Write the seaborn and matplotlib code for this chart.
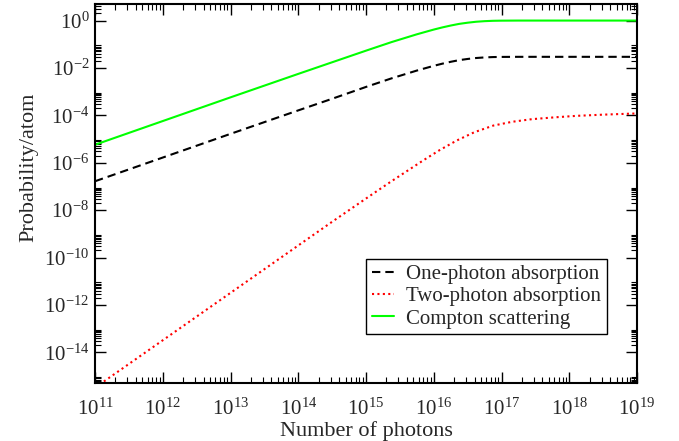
import numpy as np
import pandas as pd
import matplotlib
matplotlib.use("Agg")
import matplotlib.pyplot as plt
import matplotlib.ticker as mticker
import seaborn as sns

# log10 of number of photons (one-photon and Compton readings)
log_photons = [11, 12, 13, 14, 14.5, 15, 15.125, 15.25, 15.375, 15.5, 15.625, 15.75,
               15.875, 16, 16.125, 16.25, 16.375, 16.5, 16.625, 16.75, 16.875, 17,
               17.25, 17.5, 18, 18.5, 19]
# log10 of probability/atom
log_one_photon = [-6.78, -5.78, -4.78, -3.79, -3.30, -2.80, -2.68, -2.56, -2.44, -2.33,
                  -2.22, -2.11, -2.01, -1.91, -1.82, -1.74, -1.67, -1.62, -1.58, -1.555,
                  -1.54, -1.534, -1.53, -1.53, -1.53, -1.53, -1.53]
log_compton = [-5.24, -4.24, -3.24, -2.25, -1.76, -1.27, -1.15, -1.03, -0.91, -0.80,
               -0.69, -0.58, -0.48, -0.38, -0.29, -0.21, -0.14, -0.09, -0.05, -0.025,
               -0.01, -0.004, 0.0, 0.0, 0.0, 0.0, 0.0]
# two-photon readings (own x positions)
log_photons_two = [11, 12, 13, 14, 14.5, 15.04, 15.2, 15.36, 15.61, 15.85, 16.09, 16.34,
                   16.60, 16.88, 17.16, 17.45, 17.8, 18.11, 18.5, 18.98, 19]
log_two_photon = [-15.49, -13.49, -11.49, -9.49, -8.49, -7.43, -7.12, -6.81, -6.34, -5.89,
                  -5.46, -5.06, -4.71, -4.43, -4.27, -4.16, -4.08, -4.02, -3.97, -3.92, -3.92]

series_names = ["One-photon absorption", "Two-photon absorption", "Compton scattering"]
x_label = "Number of photons"
y_label = "Probability/atom"

sns.set_style("ticks")
plt.rcParams["font.family"] = ["Liberation Serif", "DejaVu Serif"]
plt.rcParams["mathtext.fontset"] = "custom"
plt.rcParams["mathtext.rm"] = "Liberation Serif"
plt.rcParams["mathtext.it"] = "Liberation Serif:italic"
plt.rcParams["mathtext.bf"] = "Liberation Serif:bold"

df = pd.concat([
    pd.DataFrame({"photons": 10.0 ** np.array(log_photons),
                  "prob": 10.0 ** np.array(log_one_photon), "series": series_names[0]}),
    pd.DataFrame({"photons": 10.0 ** np.array(log_photons_two),
                  "prob": 10.0 ** np.array(log_two_photon), "series": series_names[1]}),
    pd.DataFrame({"photons": 10.0 ** np.array(log_photons),
                  "prob": 10.0 ** np.array(log_compton), "series": series_names[2]}),
], ignore_index=True)

fig = plt.figure(figsize=(6.79, 4.41), dpi=100)
ax = fig.add_axes([95 / 679, 1 - 383 / 441, 542 / 679, 379 / 441])

styles = {
    series_names[0]: dict(color="black", dashes=(4.0, 2.4)),
    series_names[1]: dict(color="#ff0000", dashes=(1.0, 1.6)),
    series_names[2]: dict(color="#00ff00", dashes=()),
}
for name in series_names:
    sub = df[df["series"] == name]
    st = styles[name]
    sns.lineplot(data=sub, x="photons", y="prob", ax=ax, color=st["color"],
                 lw=1.5, label=name, estimator=None, sort=False)
    line = ax.get_lines()[-1]
    if st["dashes"]:
        line.set_dashes(st["dashes"])

ax.set_xscale("log")
ax.set_yscale("log")
ax.set_xlim(1e11, 1e19)
ax.set_ylim(5.1e-16, 5.0)

ax.xaxis.set_major_locator(mticker.LogLocator(base=10, numticks=20))
ax.xaxis.set_minor_locator(mticker.LogLocator(base=10, subs=np.arange(2, 10), numticks=20))
ax.xaxis.set_major_formatter(mticker.LogFormatterMathtext())

ymaj = [10.0 ** e for e in range(-14, 2, 2)]
ymin = [k * 10.0 ** e for e in range(-16, 2, 2) for k in range(2, 10)]
ax.yaxis.set_major_locator(mticker.FixedLocator(ymaj))
ax.yaxis.set_minor_locator(mticker.FixedLocator(ymin))
ax.yaxis.set_major_formatter(mticker.LogFormatterMathtext())

ax.tick_params(which="both", direction="in", top=True, right=True, color="black")
ax.tick_params(which="major", length=8, width=1.0, labelsize=15)
ax.tick_params(axis="x", which="major", pad=11)
ax.tick_params(axis="y", which="major", pad=4)
ax.tick_params(which="minor", length=4, width=0.8)
for s in ax.spines.values():
    s.set_linewidth(1.5)
    s.set_color("black")

ax.set_xlabel(x_label, fontsize=16, labelpad=1)
ax.set_ylabel(y_label, fontsize=16, labelpad=4)
ax.yaxis.set_label_coords(-0.105, (383 - 167.5) / 379)

leg = ax.legend(loc="upper left", bbox_to_anchor=((365.7 - 95) / 542, (383 - 259) / 379),
                borderaxespad=0, fontsize=15, frameon=True, fancybox=False,
                framealpha=1, edgecolor="black", handlelength=1.07,
                handletextpad=0.57, labelspacing=0.12, borderpad=0.28)
leg.get_frame().set_linewidth(1.0)

fig.savefig("out.png", dpi=100)
